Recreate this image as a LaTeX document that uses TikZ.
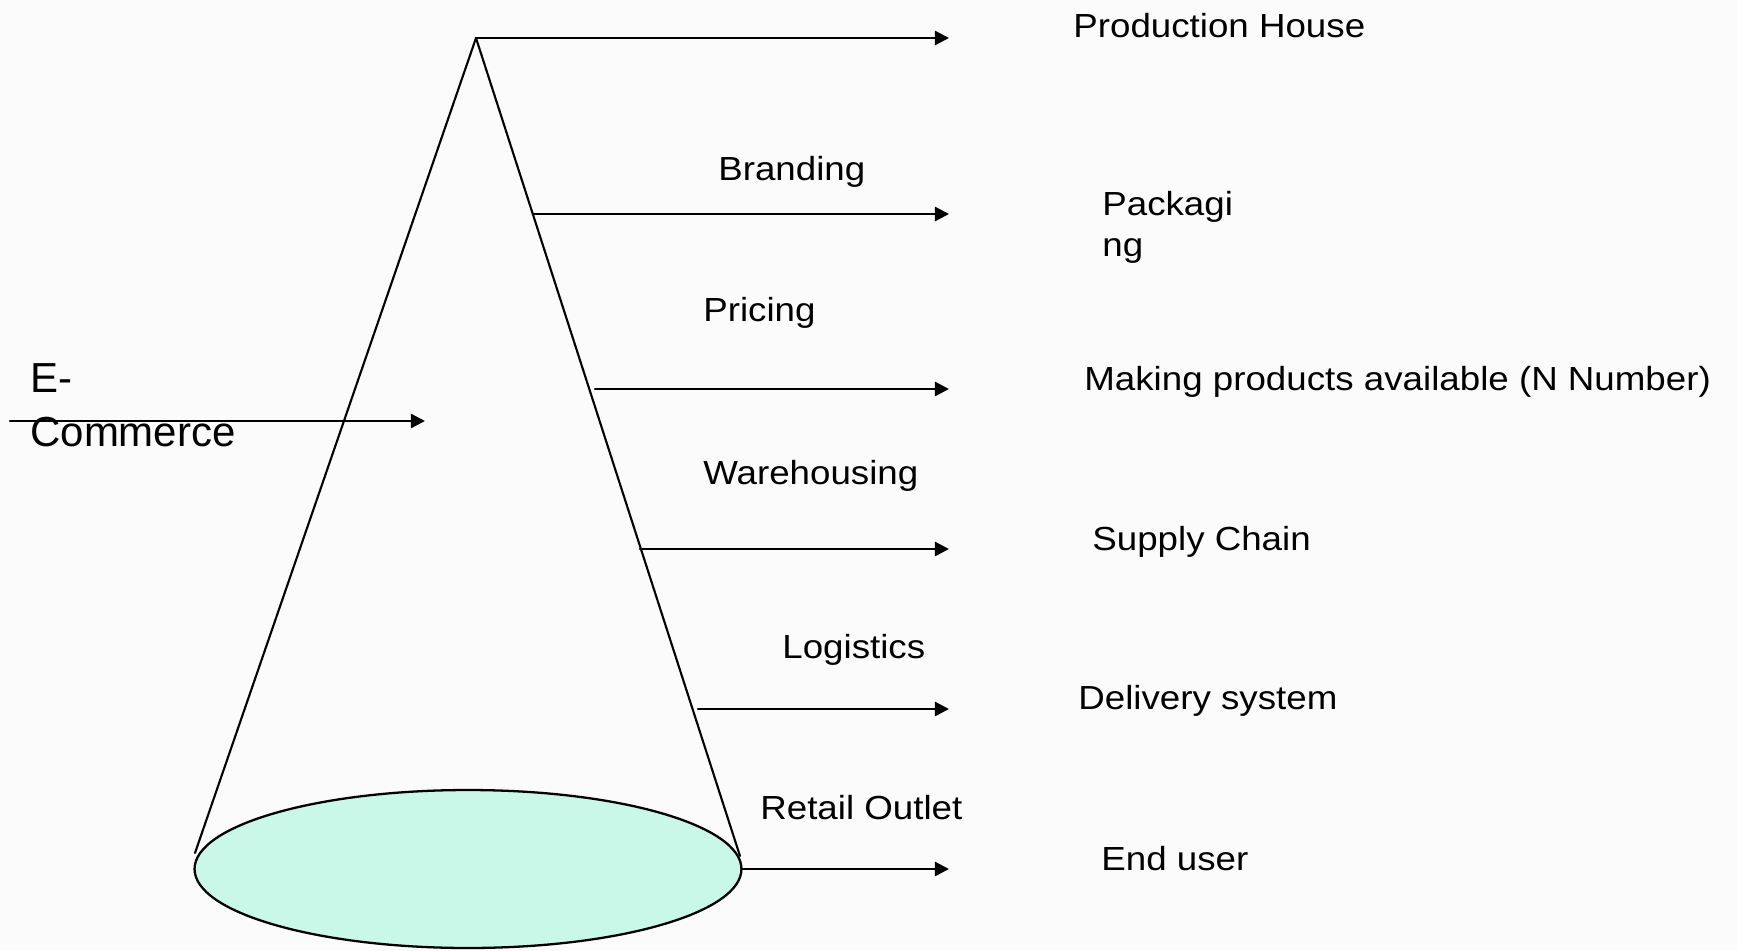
\documentclass[tikz,border=0pt]{standalone}
\usepackage{fontspec}
\setmainfont{Liberation Sans}[FakeStretch=1.1]
\newfontfamily\widesans{Liberation Sans}
\usetikzlibrary{arrows.meta,shapes.geometric}
\definecolor{basefill}{RGB}{202,248,232}
\definecolor{pagebg}{RGB}{251,251,251}
\tikzset{
	stage/.style={anchor=base west,inner sep=0pt},
	flow/.style={->,line width=1.35pt},
}
\begin{document}
\begin{tikzpicture}[x=0.02cm,y=-0.02cm,line cap=round,line join=round,>={Triangle[length=8pt,width=8pt]},font=\fontsize{19}{22.8}\selectfont]
			\fill[pagebg] (0,0) rectangle (1737,950);
			\useasboundingbox (0,0) rectangle (1737,950);
			\def\e{949}
			\coordinate (apex) at (476,38);
			\coordinate (lfoot) at (195,853);
			\coordinate (rfoot) at (740,856);
			\draw[line width=1.2pt] (lfoot) -- (apex) -- (rfoot);
			\node[draw,ellipse,line width=1.3pt,fill=basefill,minimum width=10.94cm,minimum height=3.16cm,inner sep=0pt] (base) at (468,869) {};
			\coordinate (s2) at (533,214);
			\coordinate (s3) at (595,389);
			\coordinate (s4) at (640,549);
			\coordinate (s5) at (698,709);
			\coordinate (tip1) at (\e,38);
			\coordinate (tip2) at (\e,214);
			\coordinate (tip3) at (\e,389);
			\coordinate (tip4) at (\e,549);
			\coordinate (tip5) at (\e,709);
			\coordinate (tip6) at (\e,869);
			\draw[flow] (apex) -- (tip1);
			\draw[flow] (s2) -- (tip2);
			\draw[flow] (s3) -- (tip3);
			\draw[flow] (s4) -- (tip4);
			\draw[flow] (s5) -- (tip5);
			\draw[flow] (base.east) -- (tip6);
			\coordinate (ecin) at (10,421);
			\coordinate (ectip) at (425,421);
			\draw[flow] (ecin) -- (ectip);
			\node[stage] (branding) at (718,180) {Branding};
			\node[stage] (pricing) at (703,321) {Pricing};
			\node[stage] (warehousing) at (703,484) {Warehousing};
			\node[stage] (logistics) at (782,658) {Logistics};
			\node[stage] (retail) at (760,819) {Retail Outlet};
			\node[stage] (house) at (1073,37) {Production House};
			\node[stage,align=left] (packaging) at (1102,256) {Packagi\\ng};
			\node[stage] (available) at (1084,390) {Making products available (N Number)};
			\node[stage] (supply) at (1092,550) {Supply Chain};
			\node[stage] (delivery) at (1078,709) {Delivery system};
			\node[stage] (enduser) at (1101,870) {End user};
			\node[stage,align=left,font=\widesans\fontsize{23.9}{30.2}\selectfont] (ecommerce) at (30,446) {E-\\Commerce};
		\end{tikzpicture}
\end{document}
